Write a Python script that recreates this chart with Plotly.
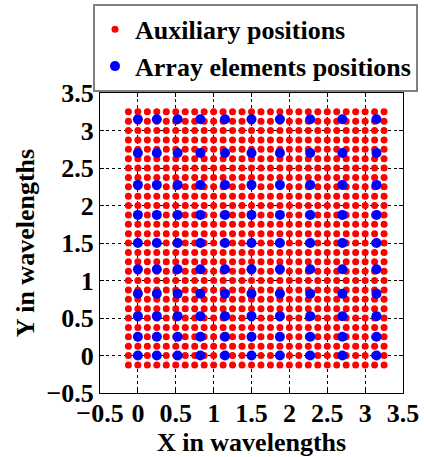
import plotly.graph_objects as go

# Auxiliary grid coordinates (wavelengths)
aux_coords = [-0.125, 0.0, 0.125, 0.25, 0.375, 0.5, 0.625, 0.75, 0.875, 1.0,
              1.125, 1.25, 1.375, 1.5, 1.625, 1.75, 1.875, 2.0, 2.125, 2.25,
              2.375, 2.5, 2.625, 2.75, 2.875, 3.0, 3.125, 3.25]
# Array element coordinates (wavelengths), same in X and Y
elem_coords = [0.0, 0.25, 0.525, 0.825, 1.15, 1.5, 1.875, 2.275, 2.7, 3.15]

tick_vals = [-0.5, 0, 0.5, 1, 1.5, 2, 2.5, 3, 3.5]
tick_text = ["\u22120.5", "0", "0.5", "1", "1.5", "2", "2.5", "3", "3.5"]

aux_x = [x for y in aux_coords for x in aux_coords]
aux_y = [y for y in aux_coords for x in aux_coords]
el_x = [x for y in elem_coords for x in elem_coords]
el_y = [y for y in elem_coords for x in elem_coords]

FONT = "Liberation Serif, Times New Roman, serif"
BOLD = dict(family=FONT, size=26, color="black", weight="bold")

fig = go.Figure()
fig.add_trace(go.Scatter(x=aux_x, y=aux_y, mode="markers", name="Auxiliary positions",
                         marker=dict(color="#ff0000", size=7, line=dict(width=0))))
fig.add_trace(go.Scatter(x=el_x, y=el_y, mode="markers", name="Array elements positions",
                         marker=dict(color="#0000ff", size=10, line=dict(width=0))))

axis_common = dict(
    range=[-0.5, 3.5], tickmode="array", tickvals=tick_vals, ticktext=tick_text,
    showgrid=True, gridcolor="black", griddash="dot", gridwidth=1,
    zeroline=False, showline=True, linecolor="black", linewidth=1, mirror="ticks",
    ticks="inside", ticklen=4, tickcolor="black",
    tickfont=BOLD,
)

fig.update_layout(
    width=424, height=457,
    margin=dict(l=100, r=21, t=93, b=64, autoexpand=False),
    paper_bgcolor="white", plot_bgcolor="white",
    font=dict(family=FONT, color="black"),
    xaxis=dict(**axis_common, ticklabelstandoff=-3,
               title=dict(text="X in wavelengths", font=BOLD, standoff=4)),
    yaxis=dict(**axis_common,
               title=dict(text="Y in wavelengths", font=BOLD, standoff=4)),
    legend=dict(x=-0.023, y=1.297, xanchor="left", yanchor="top",
                bordercolor="#808080", borderwidth=2, bgcolor="white",
                font=dict(family=FONT, size=26, color="black", weight="bold"),
                itemsizing="trace", tracegroupgap=0),
    showlegend=True,
)

fig.write_html("out.html")
